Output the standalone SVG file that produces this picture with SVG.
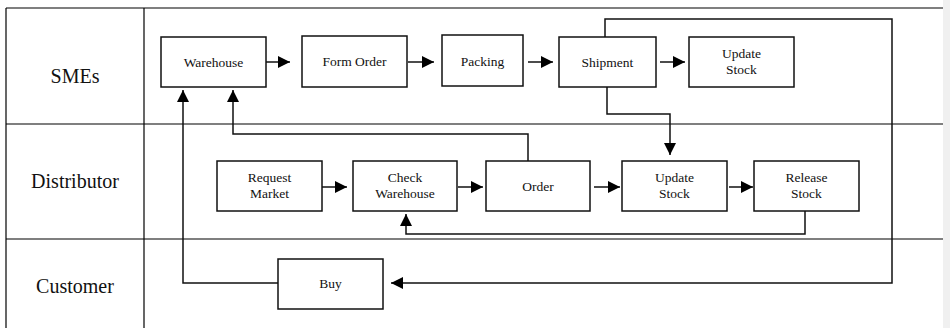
<svg xmlns="http://www.w3.org/2000/svg" width="950" height="328" viewBox="0 0 950 328">
  <style>
    .lane { stroke: #000; stroke-width: 1.2; fill: none; }
    .lbl { font-family: "Liberation Serif", "Times New Roman", serif; font-size: 20px; fill: #111; text-anchor: middle; }
    .box { fill: #fff; stroke: #111; stroke-width: 1.5; }
    .txt { font-family: "Liberation Serif", "Times New Roman", serif; font-size: 13.5px; fill: #111; text-anchor: middle; }
    .con { fill: none; stroke: #111; stroke-width: 1.5; }
    .arr { marker-end: url(#head); }
  </style>
  <defs>
    <marker id="head" viewBox="0 0 10 10" refX="10" refY="5" markerWidth="12" markerHeight="12" markerUnits="userSpaceOnUse" orient="auto">
      <path d="M0,0 L10,5 L0,10 z" fill="#000"/>
    </marker>
  </defs>

  <rect x="0" y="0" width="950" height="328" fill="#fff"/>
  <rect x="943" y="0" width="7" height="328" fill="#f0f0f0"/>

  <!-- swimlane frame -->
  <g id="lanes">
    <line class="lane" x1="6" y1="8" x2="943" y2="8"/>
    <line class="lane" x1="6" y1="124" x2="943" y2="124"/>
    <line class="lane" x1="6" y1="239" x2="943" y2="239"/>
    <line class="lane" x1="6" y1="8" x2="6" y2="328"/>
    <line class="lane" x1="144" y1="8" x2="144" y2="328"/>
    <text class="lbl" x="75" y="83">SMEs</text>
    <text class="lbl" x="75" y="188">Distributor</text>
    <text class="lbl" x="75" y="293">Customer</text>
  </g>

  <!-- connectors -->
  <g id="connectors">
    <line class="con arr" x1="266" y1="62" x2="290" y2="62"/>
    <line class="con arr" x1="408" y1="62" x2="434" y2="62"/>
    <line class="con arr" x1="528" y1="62" x2="553" y2="62"/>
    <line class="con arr" x1="660" y1="62" x2="685" y2="62"/>
    <line class="con arr" x1="322" y1="187" x2="347" y2="187"/>
    <line class="con arr" x1="458" y1="187" x2="483" y2="187"/>
    <line class="con arr" x1="594" y1="187" x2="620" y2="187"/>
    <line class="con arr" x1="729" y1="187" x2="753" y2="187"/>
    <!-- Shipment to Buy loop -->
    <polyline class="con arr" points="605,37 605,19 892,19 892,283 391,283"/>
    <!-- Buy back to Warehouse -->
    <polyline class="con arr" points="278,283 183,283 183,90"/>
    <!-- Order back to Warehouse -->
    <polyline class="con arr" points="528,161 528,134 233,134 233,90"/>
    <!-- Shipment down to distributor Update Stock -->
    <polyline class="con arr" points="607,87 607,114 670,114 670,155"/>
    <!-- Release Stock back to Check Warehouse -->
    <polyline class="con arr" points="805,211 805,234 406,234 406,214"/>
  </g>

  <!-- SMEs lane -->
  <g id="warehouse">
    <rect class="box" x="161" y="37" width="105" height="50"/>
    <text class="txt" x="213.5" y="67">Warehouse</text>
  </g>
  <g id="form-order">
    <rect class="box" x="302" y="36" width="105" height="51"/>
    <text class="txt" x="354.5" y="66">Form Order</text>
  </g>
  <g id="packing">
    <rect class="box" x="442" y="35" width="81" height="51"/>
    <text class="txt" x="482.5" y="66">Packing</text>
  </g>
  <g id="shipment">
    <rect class="box" x="559" y="37" width="97" height="50"/>
    <text class="txt" x="607.5" y="67">Shipment</text>
  </g>
  <g id="update-stock-sme">
    <rect class="box" x="689" y="37" width="105" height="50"/>
    <text class="txt" x="741.5" y="58">Update</text>
    <text class="txt" x="741.5" y="74">Stock</text>
  </g>

  <!-- Distributor lane -->
  <g id="request-market">
    <rect class="box" x="217" y="161" width="105" height="50"/>
    <text class="txt" x="269.5" y="182">Request</text>
    <text class="txt" x="269.5" y="198">Market</text>
  </g>
  <g id="check-warehouse">
    <rect class="box" x="353" y="161" width="104" height="50"/>
    <text class="txt" x="405" y="182">Check</text>
    <text class="txt" x="405" y="198">Warehouse</text>
  </g>
  <g id="order">
    <rect class="box" x="486" y="161" width="104" height="50"/>
    <text class="txt" x="538" y="191">Order</text>
  </g>
  <g id="update-stock-dist">
    <rect class="box" x="622" y="161" width="105" height="50"/>
    <text class="txt" x="674.5" y="182">Update</text>
    <text class="txt" x="674.5" y="198">Stock</text>
  </g>
  <g id="release-stock">
    <rect class="box" x="754" y="161" width="105" height="50"/>
    <text class="txt" x="806.5" y="182">Release</text>
    <text class="txt" x="806.5" y="198">Stock</text>
  </g>

  <!-- Customer lane -->
  <g id="buy">
    <rect class="box" x="278" y="259" width="105" height="50"/>
    <text class="txt" x="330.5" y="288">Buy</text>
  </g>
</svg>
